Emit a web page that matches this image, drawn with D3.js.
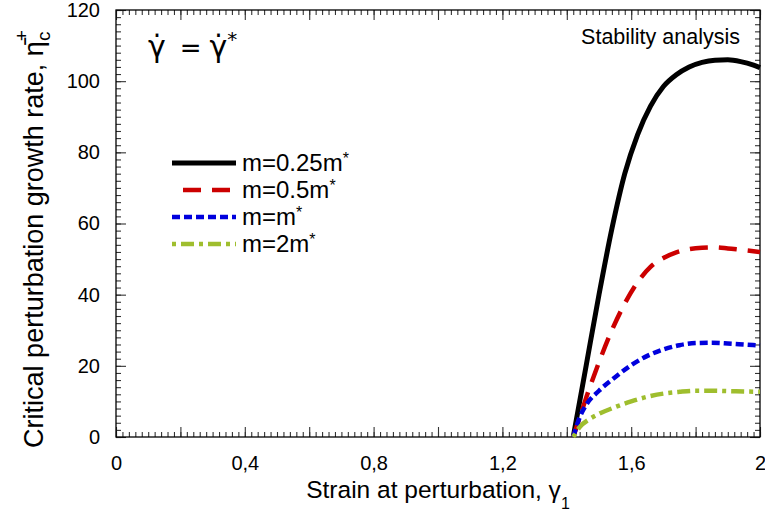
<!DOCTYPE html>
<html>
<head>
<meta charset="utf-8">
<title>critical perturbation growth rate</title>
<script src="https://cdn.jsdelivr.net/npm/d3@7"></script>
<style>
  body { margin: 0; background: #fff; }
  text { font-family: "Liberation Sans", Arial, sans-serif; fill: #000; }
</style>
</head>
<body>
<script>
// values
var strainBlack = [1.42, 1.46, 1.50, 1.54, 1.58, 1.62, 1.66, 1.70, 1.74, 1.78, 1.82, 1.86, 1.90, 1.94, 1.98, 2.00]
var rateBlack   = [0, 20, 40, 58.5, 74, 85, 93, 98.5, 101.8, 104, 105.3, 105.9, 106, 105.5, 104.5, 103.8]

var strainRed = [1.42, 1.44, 1.46, 1.50, 1.54, 1.58, 1.62, 1.66, 1.70, 1.74, 1.78, 1.82, 1.86, 1.90, 1.94, 2.0]
var rateRed   = [0, 5.5, 11, 21, 30, 37.5, 43.5, 47.8, 50.3, 51.9, 52.8, 53.2, 53.3, 53.0, 52.6, 52.0]

var strainBlue = [1.42, 1.44, 1.46, 1.50, 1.55, 1.60, 1.65, 1.70, 1.75, 1.80, 1.85, 1.90, 1.95, 2.0]
var rateBlue   = [0, 5.5, 9, 13, 16.8, 20.2, 22.8, 24.6, 25.8, 26.4, 26.5, 26.3, 26.0, 25.7]

var strainGreen = [1.42, 1.44, 1.47, 1.50, 1.55, 1.60, 1.65, 1.70, 1.75, 1.80, 1.85, 1.90, 1.95, 2.0]
var rateGreen   = [0, 2.8, 5, 6.5, 8.4, 10.0, 11.3, 12.2, 12.7, 13.0, 13.0, 12.9, 12.8, 12.7]

var legendLabels = ["m=0.25m", "m=0.5m", "m=m", "m=2m"]
var xLabelTicks = [0, 0.4, 0.8, 1.2, 1.6, 2]
var yLabelTicks = [0, 20, 40, 60, 80, 100, 120]

var series = [
  {name: legendLabels[0], x: strainBlack, y: rateBlack, color: "#000000", dash: null, off: 0, sw: 5},
  {name: legendLabels[1], x: strainRed, y: rateRed, color: "#cc0000", dash: "18,11", off: 18, sw: 4.5},
  {name: legendLabels[2], x: strainBlue, y: rateBlue, color: "#0000dd", dash: "8,4", off: 0, sw: 4.5},
  {name: legendLabels[3], x: strainGreen, y: rateGreen, color: "#9fbe2e", dash: "4,5,13,5", off: 0, sw: 4.5}
]

var w = 765, h = 521
var plotL = 116, plotR = 760, plotT = 10, plotB = 437

var svg = d3.select("body").append("svg").attr("width", w).attr("height", h)

var xScale = d3.scaleLinear().domain([0, 2]).range([plotL, plotR])
var yScale = d3.scaleLinear().domain([0, 120]).range([plotB, plotT])

var xMinor = d3.range(0, 2.0001, 0.02)
var xMajor = d3.range(0, 2.0001, 0.2)
var yMinor = d3.range(0, 120.001, 2)
var yMajor = d3.range(0, 120.001, 20)

function commaFmt(d) { return String(+d.toFixed(1)).replace(".", ",") }

// ticks pointing inward on all four sides
function tickAxis(axisFn, scale, vals, size, tr) {
  var g = svg.append("g").attr("transform", tr)
    .call(axisFn(scale).tickValues(vals).tickSize(size).tickFormat(""))
  g.select(".domain").remove()
  g.selectAll(".tick line").attr("stroke", "#333").attr("stroke-width", 1.1)
  return g
}
tickAxis(d3.axisBottom, xScale, xMinor, -5, "translate(0," + plotB + ")")
tickAxis(d3.axisBottom, xScale, xMajor, -10, "translate(0," + plotB + ")")
tickAxis(d3.axisTop, xScale, xMinor, -5, "translate(0," + plotT + ")")
tickAxis(d3.axisTop, xScale, xMajor, -10, "translate(0," + plotT + ")")
tickAxis(d3.axisLeft, yScale, yMinor, -5, "translate(" + plotL + ",0)")
tickAxis(d3.axisLeft, yScale, yMajor, -10, "translate(" + plotL + ",0)")
tickAxis(d3.axisRight, yScale, yMinor, -5, "translate(" + plotR + ",0)")
tickAxis(d3.axisRight, yScale, yMajor, -10, "translate(" + plotR + ",0)")

// tick labels
var xl = svg.append("g").attr("transform", "translate(0," + plotB + ")")
  .call(d3.axisBottom(xScale).tickValues(xLabelTicks).tickSize(0).tickPadding(19).tickFormat(commaFmt))
xl.select(".domain").remove()
xl.selectAll("text").attr("font-size", 20).style("font-family", "Liberation Sans, Arial, sans-serif")

var yl = svg.append("g").attr("transform", "translate(" + plotL + ",0)")
  .call(d3.axisLeft(yScale).tickValues(yLabelTicks).tickSize(0).tickPadding(16).tickFormat(d3.format("d")))
yl.select(".domain").remove()
yl.selectAll("text").attr("font-size", 20).style("font-family", "Liberation Sans, Arial, sans-serif")

// frame
svg.append("rect").attr("x", plotL).attr("y", plotT)
  .attr("width", plotR - plotL).attr("height", plotB - plotT)
  .attr("fill", "none").attr("stroke", "#000").attr("stroke-width", 1.3)

// curves
var line = d3.line()
  .x(function(d) { return xScale(d[0]) })
  .y(function(d) { return yScale(d[1]) })
  .curve(d3.curveMonotoneX)

series.forEach(function(s) {
  var pts = s.x.map(function(v, i) { return [v, s.y[i]] })
  svg.append("path")
    .datum(pts)
    .attr("d", line)
    .attr("fill", "none")
    .attr("stroke", s.color)
    .attr("stroke-width", s.sw)
    .attr("stroke-dasharray", s.dash)
})

// legend
var legY = [163, 190, 217, 244]
series.forEach(function(s, i) {
  svg.append("line")
    .attr("x1", 172).attr("x2", 236)
    .attr("y1", legY[i]).attr("y2", legY[i])
    .attr("stroke", s.color).attr("stroke-width", s.sw)
    .attr("stroke-dasharray", s.dash)
    .attr("stroke-dashoffset", s.off)
  var t = svg.append("text").attr("x", 242).attr("y", legY[i] + 8).attr("font-size", 24)
  t.append("tspan").text(s.name)
  t.append("tspan").attr("font-size", 16).attr("dy", -7).text("*")
})

// annotations
svg.append("text").attr("x", 740).attr("y", 44).attr("font-size", 21.5)
  .attr("text-anchor", "end").text("Stability analysis")

var ann = svg.append("text").attr("x", 148).attr("y", 57).attr("font-size", 30)
  .style("font-family", "DejaVu Sans, sans-serif")
ann.append("tspan").text("\u03B3\u0307")
ann.append("tspan").attr("dx", 14).attr("font-size", 26).text("=")
ann.append("tspan").attr("dx", 8).text("\u03B3\u0307")
ann.append("tspan").attr("font-size", 20).attr("dy", -11).text("*")

// axis titles
var xt = svg.append("text").attr("x", 438).attr("y", 498).attr("font-size", 24.5)
  .attr("text-anchor", "middle")
xt.append("tspan").text("Strain at perturbation, \u03B3")
xt.append("tspan").attr("font-size", 16).attr("dy", 11).text("1")

var yt = svg.append("text")
  .attr("transform", "translate(43,239) rotate(-90)")
  .attr("font-size", 27).attr("text-anchor", "middle")
yt.append("tspan").text("Critical perturbation growth rate, \u03B7\u0304")
yt.append("tspan").attr("font-size", 19).attr("dy", -15).text("+")
yt.append("tspan").attr("font-size", 19).attr("dx", -11).attr("dy", 22).text("c")
</script>
</body>
</html>
